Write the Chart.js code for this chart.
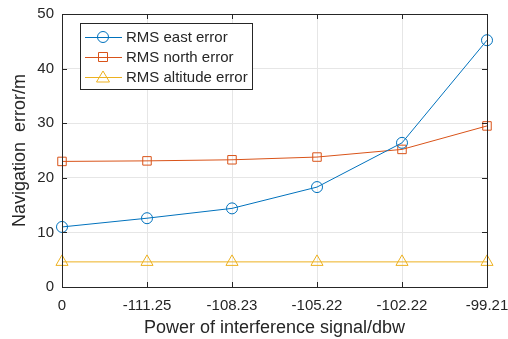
<!DOCTYPE html>
<html>
<head>
<meta charset="utf-8">
<script src="https://cdn.jsdelivr.net/npm/chart.js@4"></script>
<style>
  html, body { margin: 0; padding: 0; background: #fff; }
  #wrap { width: 508px; height: 339px; }
</style>
</head>
<body>
<div id="wrap"><canvas id="myChart" width="508" height="339"></canvas></div>
<script>
// data
var powerLabels = ['0', '-111.25', '-108.23', '-105.22', '-102.22', '-99.21'];
var eastErr = [11.0, 12.6, 14.4, 18.3, 26.4, 45.2];
var northErr = [23.0, 23.1, 23.3, 23.8, 25.2, 29.5];
var altErr = [4.6, 4.6, 4.6, 4.6, 4.6, 4.6];
var yTicks = [0, 10, 20, 30, 40, 50];

var FONT = '"Liberation Sans", Arial, sans-serif';
var cBlue = '#0072BD', cRed = '#D95319', cYel = '#EDB120';

// box frame + inside ticks on top/right, plus the legend (line + marker style)
var framePlugin = {
  id: 'frame',
  afterDraw: function(chart){
    var ctx = chart.ctx, a = chart.chartArea;
    var xs = chart.scales.x, ys = chart.scales.y;
    ctx.save();
    ctx.strokeStyle = '#262626';
    ctx.lineWidth = 1;
    ctx.strokeRect(a.left + 0.5, a.top + 0.5, a.right - a.left, a.bottom - a.top);
    ctx.beginPath();
    for (var i = 0; i < powerLabels.length; i++) {
      var x = Math.round(xs.getPixelForValue(i)) + 0.5;
      ctx.moveTo(x, a.bottom); ctx.lineTo(x, a.bottom - 5);
      ctx.moveTo(x, a.top); ctx.lineTo(x, a.top + 5);
    }
    yTicks.forEach(function(v){
      var y = Math.round(ys.getPixelForValue(v)) + 0.5;
      ctx.moveTo(a.left, y); ctx.lineTo(a.left + 5, y);
      ctx.moveTo(a.right, y); ctx.lineTo(a.right - 5, y);
    });
    ctx.stroke();

    // legend
    var lx = 80, ly = 23, lw = 172, lh = 66;
    ctx.fillStyle = '#fff';
    ctx.fillRect(lx, ly, lw, lh);
    ctx.strokeStyle = '#262626';
    ctx.strokeRect(lx + 0.5, ly + 0.5, lw, lh);
    var items = [
      ['RMS east error', cBlue, 'circle'],
      ['RMS north error', cRed, 'rect'],
      ['RMS altitude error', cYel, 'triangle']
    ];
    ctx.font = '15px ' + FONT;
    ctx.textBaseline = 'middle';
    items.forEach(function(it, k){
      var y = ly + 14 + k * 20;
      ctx.strokeStyle = it[1];
      ctx.lineWidth = 1;
      ctx.beginPath(); ctx.moveTo(lx + 5, y + 0.5); ctx.lineTo(lx + 42, y + 0.5); ctx.stroke();
      var mx = lx + 23;
      ctx.beginPath();
      if (it[2] === 'circle') ctx.arc(mx, y, 5.5, 0, Math.PI * 2);
      else if (it[2] === 'rect') ctx.rect(mx - 4.5, y - 4.5, 9, 9);
      else { ctx.moveTo(mx, y - 6); ctx.lineTo(mx + 6.5, y + 5); ctx.lineTo(mx - 6.5, y + 5); ctx.closePath(); }
      ctx.stroke();
      ctx.fillStyle = '#262626';
      ctx.fillText(it[0], lx + 46, y + 1);
    });
    ctx.restore();
  }
};

var ctx = document.getElementById('myChart').getContext('2d');
var myChart = new Chart(ctx, {
  type: 'line',
  data: {
    labels: powerLabels,
    datasets: [{
      label: 'RMS east error',
      data: eastErr,
      borderColor: cBlue,
      backgroundColor: 'rgba(0,0,0,0)',
      borderWidth: 1,
      pointStyle: 'circle',
      pointRadius: 5.5,
      pointBorderWidth: 1,
      pointBackgroundColor: 'rgba(0,0,0,0)',
      pointBorderColor: cBlue
    }, {
      label: 'RMS north error',
      data: northErr,
      borderColor: cRed,
      backgroundColor: 'rgba(0,0,0,0)',
      borderWidth: 1,
      pointStyle: 'rect',
      pointRadius: 6,
      pointBorderWidth: 1,
      pointBackgroundColor: 'rgba(0,0,0,0)',
      pointBorderColor: cRed
    }, {
      label: 'RMS altitude error',
      data: altErr,
      borderColor: cYel,
      backgroundColor: 'rgba(0,0,0,0)',
      borderWidth: 1,
      pointStyle: 'triangle',
      pointRadius: 7,
      pointBorderWidth: 1,
      pointBackgroundColor: 'rgba(0,0,0,0)',
      pointBorderColor: cYel
    }]
  },
  options: {
    responsive: false,
    animation: false,
    layout: { padding: { left: 0, right: 21, top: 14, bottom: 0 } },
    plugins: { legend: { display: false }, tooltip: { enabled: false } },
    scales: {
      x: {
        type: 'category',
        offset: false,
        grid: { color: '#e6e6e6', drawTicks: false },
        border: { display: false },
        ticks: { color: '#262626', font: { family: FONT, size: 15 }, padding: 10, maxRotation: 0, autoSkip: false },
        title: { display: true, text: 'Power of interference signal/dbw', color: '#262626',
                 font: { family: FONT, size: 18 }, padding: { top: 0, bottom: 0 } },
        afterFit: function(s){ s.height = 52; s.paddingLeft = 0; s.paddingRight = 0; }
      },
      y: {
        min: 0, max: 50,
        grid: { color: '#e6e6e6', drawTicks: false },
        border: { display: false },
        ticks: { stepSize: 10, color: '#262626', font: { family: FONT, size: 15 }, padding: 8 },
        title: { display: true, text: 'Navigation  error/m', color: '#262626',
                 font: { family: FONT, size: 18 }, padding: { top: 9, bottom: 0 } },
        afterFit: function(s){ s.width = 62; s.paddingTop = 0; s.paddingBottom = 0; }
      }
    }
  },
  plugins: [framePlugin]
});
</script>
</body>
</html>
